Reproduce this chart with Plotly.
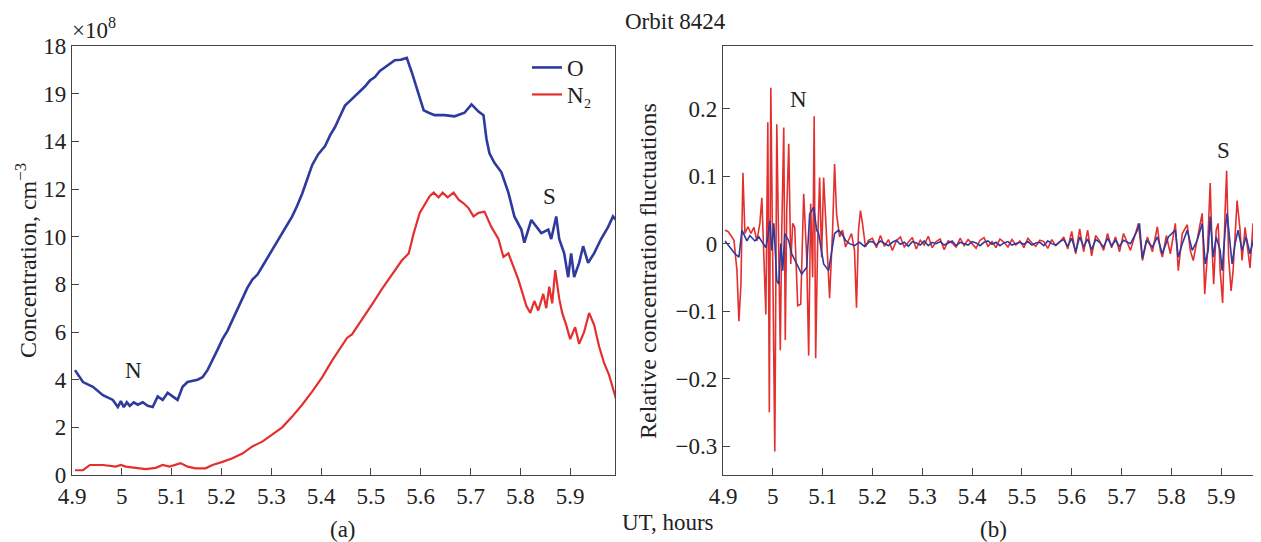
import plotly.graph_objects as go

# ---------------- Panel (a): concentrations, units of 1e8 cm^-3 ----------------
o_ut = [4.906, 4.922, 4.942, 4.962, 4.982, 4.992, 4.998, 5.004, 5.010, 5.016,
        5.024, 5.032, 5.042, 5.052, 5.062, 5.072, 5.082, 5.092, 5.102, 5.112,
        5.122, 5.132, 5.152, 5.162, 5.172, 5.182, 5.192, 5.202, 5.212, 5.222,
        5.232, 5.242, 5.252, 5.262, 5.272, 5.282, 5.292, 5.302, 5.312, 5.322,
        5.332, 5.342, 5.352, 5.362, 5.372, 5.382, 5.394, 5.408, 5.418, 5.428,
        5.438, 5.448, 5.458, 5.468, 5.478, 5.488, 5.498, 5.508, 5.518, 5.528,
        5.538, 5.548, 5.560, 5.572, 5.582, 5.596, 5.606, 5.616,
        5.628, 5.648, 5.668, 5.688, 5.702, 5.716, 5.726, 5.732, 5.738, 5.748,
        5.762, 5.776, 5.788, 5.802, 5.808, 5.822, 5.832, 5.842, 5.856, 5.862,
        5.872, 5.878, 5.888, 5.896, 5.902, 5.908, 5.918, 5.926, 5.936, 5.948,
        5.962, 5.976, 5.986, 5.992]
o_conc = [4.4, 3.9, 3.7, 3.35, 3.15, 2.85, 3.1, 2.85, 3.05, 2.9,
          3.05, 2.95, 3.05, 2.9, 2.85, 3.3, 3.15, 3.45, 3.3, 3.15,
          3.7, 3.9, 4.0, 4.1, 4.4, 4.8, 5.25, 5.7, 6.05, 6.5,
          6.95, 7.35, 7.85, 8.2, 8.4, 8.75, 9.1, 9.45, 9.85, 10.2,
          10.5, 10.85, 11.3, 11.8, 12.4, 13.0, 13.45, 13.8, 14.25, 14.6,
          15.05, 15.5, 15.7, 15.9, 16.1, 16.3, 16.55, 16.7, 16.95, 17.1,
          17.25, 17.4, 17.42, 17.5, 16.9, 16.0, 15.3, 15.2,
          15.1, 15.1, 15.05, 15.2, 15.55, 15.25, 15.1, 14.1, 13.5, 13.1,
          12.7, 11.85, 10.85, 10.3, 9.75, 10.7, 10.4, 10.15, 10.3, 9.9,
          10.85, 9.9, 9.3, 8.3, 9.3, 8.3, 8.9, 9.6, 8.9, 9.3,
          9.9, 10.4, 10.85, 10.7]

n2_ut = [4.906, 4.922, 4.936, 4.962, 4.988, 4.998, 5.008, 5.028, 5.048, 5.068,
         5.082, 5.096, 5.118, 5.132, 5.148, 5.168, 5.182, 5.202, 5.222, 5.242,
         5.262, 5.282, 5.302, 5.322, 5.342, 5.362, 5.382, 5.402, 5.422, 5.442,
         5.452, 5.462, 5.482, 5.502, 5.522, 5.542, 5.562, 5.576, 5.586, 5.598,
         5.618, 5.626, 5.636, 5.644, 5.654, 5.666, 5.676, 5.686, 5.696, 5.706,
         5.716, 5.728, 5.742, 5.756, 5.766, 5.776, 5.786, 5.796, 5.804, 5.812,
         5.820, 5.828, 5.836, 5.846, 5.852, 5.858, 5.864, 5.870, 5.878, 5.884,
         5.892, 5.900, 5.910, 5.918, 5.928, 5.938, 5.948, 5.958, 5.968, 5.978,
         5.992]
n2_conc = [0.2, 0.2, 0.42, 0.42, 0.35, 0.42, 0.35, 0.3, 0.25, 0.3,
           0.42, 0.35, 0.5, 0.35, 0.28, 0.28, 0.42, 0.55, 0.7, 0.9,
           1.2, 1.4, 1.7, 2.0, 2.45, 2.95, 3.5, 4.1, 4.8, 5.45,
           5.75, 5.9, 6.5, 7.15, 7.8, 8.4, 9.0, 9.3, 10.15, 11.0,
           11.7, 11.85, 11.65, 11.85, 11.65, 11.85, 11.55, 11.4, 11.2, 10.85,
           11.0, 11.05, 10.4, 9.9, 9.15, 9.3, 8.75, 8.2, 7.65, 7.1,
           6.8, 7.3, 6.9, 7.6, 7.0, 7.9, 7.2, 8.6, 7.4, 6.8,
           6.3, 5.7, 6.2, 5.5, 6.0, 6.8, 6.3, 5.4, 4.7, 4.2,
           3.2]

# ---------------- Panel (b): relative concentration fluctuations ----------------
n2_fl_ut = [4.904, 4.910, 4.916, 4.922, 4.928, 4.932, 4.936, 4.940, 4.944, 4.950,
            4.956, 4.962, 4.968, 4.974, 4.978, 4.982, 4.986, 4.990, 4.993, 4.996,
            5.000, 5.004, 5.008, 5.012, 5.015, 5.018, 5.022, 5.025, 5.028, 5.032,
            5.036, 5.040, 5.044, 5.050, 5.056, 5.062, 5.068, 5.072, 5.076, 5.080,
            5.083, 5.086, 5.090, 5.094, 5.098, 5.102, 5.108, 5.114, 5.120, 5.124,
            5.128, 5.134, 5.140, 5.146, 5.152, 5.158, 5.164, 5.168, 5.172, 5.176,
            5.180, 5.186, 5.192,
            5.200, 5.208, 5.216, 5.224, 5.232, 5.240, 5.248, 5.256, 5.264, 5.272,
            5.280, 5.288, 5.296, 5.304, 5.312, 5.320, 5.328, 5.336, 5.344, 5.352,
            5.360, 5.368, 5.376, 5.384, 5.392, 5.400, 5.408, 5.416, 5.424, 5.432,
            5.440, 5.448, 5.456, 5.464, 5.472, 5.480, 5.488, 5.496, 5.504, 5.512,
            5.520, 5.528, 5.536, 5.544, 5.552, 5.560, 5.568, 5.576, 5.584, 5.592,
            5.600, 5.608, 5.616, 5.624, 5.632, 5.640, 5.648, 5.656, 5.664, 5.672,
            5.680, 5.688, 5.696,
            5.704, 5.718, 5.734, 5.742, 5.752, 5.762, 5.772, 5.778, 5.782, 5.790,
            5.798, 5.808, 5.814, 5.822, 5.832, 5.838, 5.844, 5.852, 5.858, 5.862,
            5.867, 5.872, 5.878, 5.882, 5.885, 5.890, 5.894, 5.898, 5.903, 5.908,
            5.911, 5.915, 5.920, 5.924, 5.928, 5.932, 5.938, 5.942, 5.948, 5.954,
            5.958, 5.964, 5.970, 5.974, 5.980]
n2_fl = [0.02, 0.018, 0.012, 0.005, -0.04, -0.115, -0.06, 0.105, 0.015, 0.025,
         0.015, 0.024, 0.004, 0.03, 0.068, -0.03, -0.105, 0.18, -0.25, 0.231,
         -0.1, -0.308, 0.177, -0.06, -0.158, 0.02, 0.172, -0.143, 0.05, 0.148,
         -0.03, 0.03, 0.024, -0.092, -0.09, 0.074, -0.02, -0.166, 0.059, -0.05,
         0.189, -0.17, 0.0, 0.098, -0.02, 0.098, 0.01, -0.081, 0.02, 0.118,
         0.044, 0.01, 0.02, -0.005, 0.005, 0.015, -0.01, -0.095, 0.02, 0.049,
         0.03, -0.005, 0.005,
         0.008, -0.006, 0.012, -0.004, 0.006, -0.010, 0.004, 0.010, -0.005, 0.002,
         0.009, -0.008, 0.005, -0.002, 0.011, -0.006, 0.003, 0.007, -0.009, 0.004,
         0.001, -0.005, 0.008, -0.003, 0.006, 0.000, -0.007, 0.005, 0.009, -0.004,
         0.003, -0.006, 0.007, 0.002, -0.005, 0.006, -0.002, 0.004, -0.006, 0.008,
         0.001, -0.004, 0.005, 0.003, -0.007, 0.006, -0.003, 0.002, 0.010, -0.008,
         0.018, -0.015, 0.022, -0.012, 0.020, -0.018, 0.012, 0.004, -0.010, 0.015,
         -0.006, 0.010, -0.012,
         0.015, -0.01, 0.03, -0.025, 0.01, -0.012, 0.025, -0.01, -0.02, 0.012,
         -0.015, 0.03, -0.04, 0.015, 0.028, -0.01, -0.025, 0.01, 0.03, 0.045,
         -0.075, -0.02, 0.09, -0.01, -0.06, 0.02, 0.03, -0.04, -0.088, 0.05,
         0.108, -0.02, -0.07, -0.04, 0.02, 0.064, 0.02, -0.025, 0.024, -0.01,
         -0.036, 0.03, -0.005, 0.01, -0.01]

o_fl_ut = [4.904, 4.914, 4.924, 4.932, 4.938, 4.948, 4.954, 4.964, 4.972, 4.978,
           4.986, 4.990, 4.994, 4.998, 5.002, 5.008, 5.012, 5.016, 5.020, 5.024,
           5.032, 5.038, 5.048, 5.058, 5.068, 5.074, 5.082, 5.088, 5.092, 5.102,
           5.112, 5.118, 5.124, 5.132, 5.138, 5.146, 5.154, 5.164, 5.174, 5.184,
           5.194,
           5.200, 5.208, 5.216, 5.224, 5.232, 5.240, 5.248, 5.256, 5.264, 5.272,
           5.280, 5.288, 5.296, 5.304, 5.312, 5.320, 5.328, 5.336, 5.344, 5.352,
           5.360, 5.368, 5.376, 5.384, 5.392, 5.400, 5.408, 5.416, 5.424, 5.432,
           5.440, 5.448, 5.456, 5.464, 5.472, 5.480, 5.488, 5.496, 5.504, 5.512,
           5.520, 5.528, 5.536, 5.544, 5.552, 5.560, 5.568, 5.576, 5.584, 5.592,
           5.600, 5.608, 5.616, 5.624, 5.632, 5.640, 5.648, 5.656, 5.664, 5.672,
           5.680, 5.688, 5.696,
           5.704, 5.718, 5.732, 5.736, 5.742, 5.750, 5.762, 5.772, 5.782, 5.794,
           5.808, 5.814, 5.822, 5.832, 5.842, 5.852, 5.862, 5.868, 5.874, 5.878,
           5.884, 5.890, 5.898, 5.902, 5.908, 5.912, 5.918, 5.922, 5.928, 5.934,
           5.942, 5.950, 5.958, 5.966, 5.974, 5.980]
o_fl = [0.004, -0.005, -0.015, -0.02, 0.02, 0.004, 0.012, 0.004, 0.01, 0.003,
        -0.006, 0.01, 0.034, -0.01, 0.03, -0.055, -0.06, 0.0, -0.04, 0.015,
        0.004, -0.015, -0.03, -0.045, -0.035, 0.044, 0.054, 0.02, 0.015, -0.03,
        -0.04, -0.01, 0.015, 0.02, 0.015, 0.005, 0.0, -0.003, 0.002, -0.004,
        0.003,
        0.003, -0.002, 0.004, 0.000, -0.003, 0.002, 0.005, -0.001, 0.002, -0.004,
        0.003, 0.001, -0.002, 0.004, -0.003, 0.002, 0.000, 0.003, -0.002, 0.001,
        0.004, -0.003, 0.002, 0.000, -0.002, 0.003, 0.001, -0.003, 0.002, 0.004,
        -0.001, 0.002, -0.003, 0.001, 0.003, -0.002, 0.000, 0.002, -0.001, 0.003,
        -0.002, 0.001, 0.002, -0.003, 0.004, 0.000, -0.002, 0.003, 0.006, -0.004,
        0.008, -0.012, 0.010, -0.005, 0.007, -0.009, 0.006, 0.002, -0.005, 0.008,
        -0.003, 0.005, -0.004,
        0.005, 0.0, 0.02, 0.03, -0.022, 0.005, -0.005, 0.01, -0.015, 0.01,
        0.02, -0.02, 0.0, 0.02, -0.01, 0.005, 0.03, -0.03, -0.01, 0.04,
        -0.02, 0.01, -0.01, -0.04, 0.02, 0.045, 0.0, -0.03, 0.0, 0.02,
        -0.01, 0.01, -0.015, 0.01, 0.0, 0.005]

x_tickvals = [4.9, 5.0, 5.1, 5.2, 5.3, 5.4, 5.5, 5.6, 5.7, 5.8, 5.9]
x_ticktext = ["4.9", "5", "5.1", "5.2", "5.3", "5.4", "5.5", "5.6", "5.7", "5.8", "5.9"]
ya_tickvals = [0, 2, 4, 6, 8, 10, 12, 14, 16, 18]
ya_ticktext = ["0", "2", "4", "6", "8", "10", "12", "14", "19", "18"]
yb_tickvals = [-0.3, -0.2, -0.1, 0, 0.1, 0.2]
yb_ticktext = ["\u22120.3", "\u22120.2", "\u22120.1", "0", "0.1", "0.2"]

BLUE = "#2e3a9c"
RED = "#e42f2f"
FONT = "Liberation Serif"
OFF = 8                      # default page margin around the figure div
W, H = 1261 - OFF, 542 - OFF
# plot-area edges in page pixels
LEFT, TOP, BOTTOM = 72, 46, 475
ML, MR, MT, MB = LEFT - OFF, 0, TOP - OFF, H - (BOTTOM - OFF)
PW, PH = W - ML - MR, H - MT - MB


def px_x(px):   # page pixel -> paper x
    return (px - OFF - ML) / PW


def px_y(py):   # page pixel -> paper y
    return (H - MB - (py - OFF)) / PH


fig = go.Figure()
fig.add_trace(go.Scatter(x=o_ut, y=o_conc, mode="lines", name="O", legend="legend",
                         line=dict(color=BLUE, width=2.6), xaxis="x", yaxis="y"))
fig.add_trace(go.Scatter(x=n2_ut, y=n2_conc, mode="lines", name="N\u2082", legend="legend2",
                         line=dict(color=RED, width=2.2), xaxis="x", yaxis="y"))
fig.add_trace(go.Scatter(x=n2_fl_ut, y=n2_fl, mode="lines", showlegend=False,
                         line=dict(color=RED, width=1.6), xaxis="x2", yaxis="y2"))
fig.add_trace(go.Scatter(x=o_fl_ut, y=o_fl, mode="lines", showlegend=False,
                         line=dict(color=BLUE, width=1.6), xaxis="x2", yaxis="y2"))

axis_common = dict(showgrid=False, zeroline=False, showline=True, mirror=True,
                   linecolor="#444", linewidth=1.4, ticks="inside", ticklen=7,
                   tickwidth=1.2, tickcolor="#444", automargin=False,
                   tickfont=dict(family=FONT, size=23, color="#222"))
legend_common = dict(xanchor="left", yanchor="top", bgcolor="rgba(0,0,0,0)",
                     font=dict(family=FONT, size=23, color="#222"),
                     tracegroupgap=0, itemwidth=30)

fig.update_layout(
    width=W, height=H, margin=dict(l=ML, r=MR, t=MT, b=MB, autoexpand=False),
    paper_bgcolor="white", plot_bgcolor="white",
    font=dict(family=FONT, size=23, color="#222"),
    xaxis=dict(domain=[0, px_x(615)], range=[4.9, 5.99], tickvals=x_tickvals,
               ticktext=x_ticktext, anchor="y", **axis_common),
    yaxis=dict(domain=[0, 1], range=[0, 18], tickvals=ya_tickvals,
               ticktext=ya_ticktext, anchor="x", **axis_common),
    xaxis2=dict(domain=[px_x(723), 1.0], range=[4.9, 5.98], tickvals=x_tickvals,
                ticktext=x_ticktext, anchor="y2", **axis_common),
    yaxis2=dict(domain=[0, 1], range=[-0.343, 0.293], tickvals=yb_tickvals,
                ticktext=yb_ticktext, anchor="x2", **axis_common),
    legend=dict(x=px_x(527), y=px_y(46), **legend_common),
    legend2=dict(x=px_x(527), y=px_y(73), **legend_common),
    showlegend=True,
)


def pap(text, px, py, size=23, angle=0):
    fig.add_annotation(text=text, x=px_x(px), y=px_y(py), xref="paper", yref="paper",
                       xanchor="center", yanchor="middle",
                       showarrow=False, textangle=angle,
                       font=dict(family=FONT, size=size, color="#222"))


pap("Orbit 8424", 675, 22)
pap("\u00d710<sup>8</sup>", 94, 28)
pap("Concentration, cm<sup>\u22123</sup>", 26, 261, size=24, angle=-90)
pap("Relative concentration fluctuations", 648, 271, size=24, angle=-90)
pap("UT, hours", 668, 522)
pap("(a)", 343, 529)
pap("(b)", 993, 529)

# in-plot labels placed in data coordinates
for txt, xv, yv, xr, yr in [("N", 5.024, 4.4, "x", "y"), ("S", 5.858, 11.7, "x", "y"),
                            ("N", 5.052, 0.214, "x2", "y2"), ("S", 5.904, 0.138, "x2", "y2")]:
    fig.add_annotation(text=txt, x=xv, y=yv, xref=xr, yref=yr, showarrow=False,
                       xanchor="center", yanchor="middle",
                       font=dict(family=FONT, size=23, color="#222"))

fig.write_html("out.html")
